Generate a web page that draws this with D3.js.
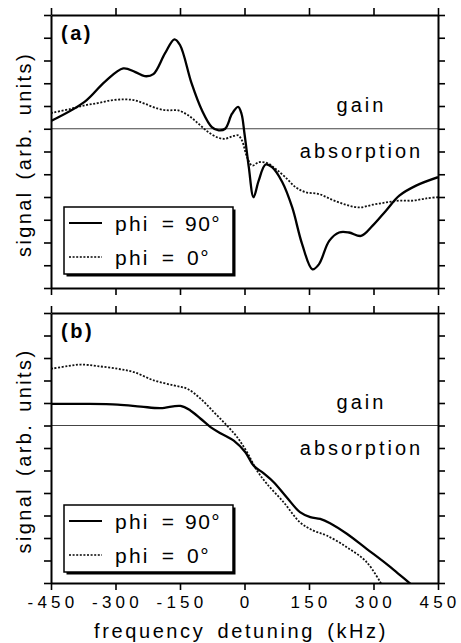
<!DOCTYPE html>
<html>
<head>
<meta charset="utf-8">
<script src="https://cdn.jsdelivr.net/npm/d3@7"></script>
<style>
  body { margin: 0; background: #fff; }
  svg { display: block; font-family: "Liberation Sans", Arial, sans-serif; }
</style>
</head>
<body>
<div id="chart"></div>
<script>
// x ticks (kHz) and y ticks (arbitrary units, zero = gain/absorption boundary)
const xTicks = [-450, -300, -150, 0, 150, 300, 450];
const yTicks = d3.range(-7, 6);

// panel (a) phi = 90
const freqA90 = [-450, -372, -325, -282, -255, -232, -212, -185, -163, -150, -123, -99, -76, -60, -45, -29, -15, -7, 0, 10, 21, 33, 49, 64, 88, 111, 134, 158, 173, 197, 220, 243, 271, 298, 329, 360, 399, 450];
const sigA90 = [0.34, 1.18, 2.06, 2.65, 2.5, 2.31, 2.4, 3.31, 3.93, 3.68, 1.99, 0.81, 0.07, -0.07, 0, 0.66, 0.96, 0.66, -0.22, -1.69, -3.01, -2.28, -1.57, -1.69, -2.35, -3.46, -5.07, -6.18, -5.96, -4.93, -4.56, -4.56, -4.71, -4.26, -3.6, -2.94, -2.5, -2.13];

// panel (a) phi = 0
const freqA0 = [-450, -403, -372, -341, -310, -279, -255, -232, -201, -177, -154, -131, -107, -84, -60, -45, -29, -15, -6, 6, 18, 33, 53, 72, 95, 119, 142, 173, 205, 236, 267, 298, 329, 360, 392, 423, 450];
const sigA0 = [0.69, 0.88, 1.03, 1.13, 1.25, 1.29, 1.25, 1.1, 0.88, 0.81, 0.81, 0.59, 0.22, -0.15, -0.4, -0.44, -0.34, -0.29, -0.51, -1.25, -1.62, -1.47, -1.51, -1.76, -2.13, -2.57, -2.79, -2.87, -3.13, -3.34, -3.46, -3.34, -3.24, -3.16, -3.16, -3.06, -3.01];

// panel (b) phi = 90
const freqB90 = [-450, -373, -295, -241, -195, -149, -126, -102, -79, -56, -25, 2, 21, 44, 68, 98, 129, 153, 176, 199, 238, 284, 330, 361, 388];
const sigB90 = [0.96, 0.96, 0.93, 0.84, 0.77, 0.87, 0.67, 0.3, -0.07, -0.34, -0.67, -1.19, -1.78, -2.12, -2.52, -3.19, -3.85, -4.07, -4.15, -4.34, -4.81, -5.48, -6.15, -6.64, -7.07];

// panel (b) phi = 0
const freqB0 = [-450, -411, -380, -342, -295, -257, -210, -164, -133, -102, -71, -41, -17, 6, 29, 52, 91, 129, 160, 191, 238, 284, 319];
const sigB0 = [2.52, 2.64, 2.71, 2.64, 2.52, 2.37, 2.0, 1.78, 1.63, 1.19, 0.59, 0.0, -0.52, -1.19, -2.0, -2.59, -3.41, -4.3, -4.67, -4.89, -5.41, -6.07, -7.07];

const legendLabels = ["phi =", "phi ="];
const legendValues = ["90°", "0°"];

const W = 461, H = 643;
const left = 51, right = 438;

const svg = d3.select("#chart").append("svg")
    .attr("width", W)
    .attr("height", H);

const x = d3.scaleLinear().domain([-450, 450]).range([left, right]);

const line = (ys) => d3.line()
    .x(d => x(d[0]))
    .y(d => ys(d[1]))
    .curve(d3.curveCatmullRom.alpha(0.5));

function zip(a, b) { return a.map((v, i) => [v, b[i]]); }

function drawPanel(id, top, bottom, label, solid, dotted, showLabels) {
  const y = d3.scaleLinear().domain([-7, 5]).range([bottom, top]);
  const g = svg.append("g");

  g.append("clipPath").attr("id", "clip" + id)
    .append("rect")
      .attr("x", left).attr("y", top)
      .attr("width", right - left).attr("height", bottom - top);

  // zero line
  g.append("line")
    .attr("x1", left).attr("x2", right)
    .attr("y1", y(0)).attr("y2", y(0))
    .attr("stroke", "#444").attr("stroke-width", 1);

  const curves = g.append("g").attr("clip-path", "url(#clip" + id + ")");
  curves.append("path")
    .datum(dotted)
    .attr("d", line(y))
    .attr("fill", "none")
    .attr("stroke", "#111")
    .attr("stroke-width", 1.8)
    .attr("stroke-dasharray", "2,1.6");
  curves.append("path")
    .datum(solid)
    .attr("d", line(y))
    .attr("fill", "none")
    .attr("stroke", "#000")
    .attr("stroke-width", 2.3);

  // axes (ticks outward)
  const axes = [
    [d3.axisLeft(y).tickValues(yTicks), `translate(${left},0)`],
    [d3.axisRight(y).tickValues(yTicks), `translate(${right},0)`],
    [d3.axisTop(x).tickValues(xTicks), `translate(0,${top})`],
    [d3.axisBottom(x).tickValues(xTicks), `translate(0,${bottom})`]
  ];
  axes.forEach(([ax, tr], i) => {
    ax.tickSize(7).tickSizeOuter(0).tickFormat("");
    if (i === 3 && showLabels) ax.tickFormat(d => String(d)).tickPadding(6);
    const a = g.append("g").attr("transform", tr).call(ax);
    a.select(".domain").attr("stroke-width", 2).attr("stroke", "#000");
    a.selectAll(".tick line").attr("stroke-width", 1.6).attr("stroke", "#000");
    a.selectAll(".tick text")
      .attr("font-size", 17)
      .attr("letter-spacing", 4.2)
      .attr("dx", 1.5)
      .attr("fill", "#000")
      .attr("font-family", "Liberation Sans, Arial, sans-serif");
  });

  // panel label
  g.append("text")
    .attr("x", 61).attr("y", top + 25)
    .attr("font-size", 20).attr("font-weight", "bold")
    .attr("letter-spacing", 2.5)
    .text(label);

  // gain / absorption
  g.append("text")
    .attr("x", 360).attr("y", y(0) - 17)
    .attr("text-anchor", "middle")
    .attr("font-size", 20).attr("letter-spacing", 3).attr("dx", 1.5)
    .text("gain");
  g.append("text")
    .attr("x", 360).attr("y", y(0) + 29)
    .attr("text-anchor", "middle")
    .attr("font-size", 20).attr("letter-spacing", 3).attr("dx", 1.5)
    .text("absorption");

  // y title
  g.append("text")
    .attr("transform", `translate(31,${(top + bottom) / 2 + 3}) rotate(-90)`)
    .attr("text-anchor", "middle")
    .attr("font-size", 20).attr("letter-spacing", 2.4)
    .attr("word-spacing", 3)
    .text("signal (arb. units)");

  // legend
  const lx = 64, ly = top + 192, lw = 169, lh = 67;
  const lg = g.append("g");
  lg.append("rect")
    .attr("x", lx + 2.5).attr("y", ly + 2.5)
    .attr("width", lw).attr("height", lh)
    .attr("fill", "#000");
  lg.append("rect")
    .attr("x", lx).attr("y", ly)
    .attr("width", lw).attr("height", lh)
    .attr("fill", "#fff").attr("stroke", "#000").attr("stroke-width", 1.5);
  [0, 1].forEach(i => {
    const yy = ly + 16 + i * 34;
    lg.append("line")
      .attr("x1", lx + 5).attr("x2", lx + 38)
      .attr("y1", yy).attr("y2", yy)
      .attr("stroke", "#000")
      .attr("stroke-width", i === 0 ? 2 : 1.7)
      .attr("stroke-dasharray", i === 0 ? null : "2,1.6");
    lg.append("text")
      .attr("x", lx + 51).attr("y", yy + 8)
      .attr("font-size", 21).attr("letter-spacing", 2.2)
      .attr("word-spacing", 4)
      .text(legendLabels[i]);
    lg.append("text")
      .attr("x", lx + 121 + (i === 1 ? 2 : 0)).attr("y", yy + 8)
      .attr("font-size", 21).attr("letter-spacing", 1.5)
      .text(legendValues[i]);
  });
}

drawPanel("a", 15, 288, "(a)", zip(freqA90, sigA90), zip(freqA0, sigA0), false);
drawPanel("b", 313, 583, "(b)", zip(freqB90, sigB90), zip(freqB0, sigB0), true);

// x title
svg.append("text")
  .attr("x", 241).attr("y", 638)
  .attr("text-anchor", "middle")
  .attr("font-size", 20).attr("letter-spacing", 2.6)
  .attr("word-spacing", 4)
  .text("frequency detuning (kHz)");
</script>
</body>
</html>
